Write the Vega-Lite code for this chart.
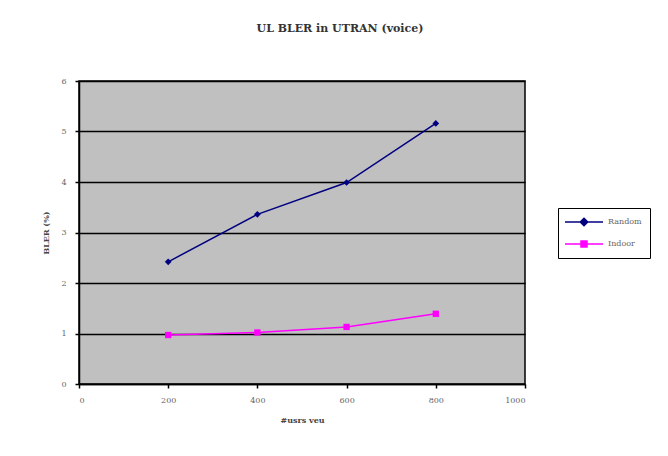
{
  "$schema": "https://vega.github.io/schema/vega-lite/v6.json",
  "width": 446,
  "height": 303,
  "autosize": {"type": "none"},
  "padding": {"left": 79, "top": 81, "right": 143, "bottom": 72},
  "background": "white",
  "title": {
    "text": "UL BLER in UTRAN (voice)",
    "font": "DejaVu Serif",
    "fontSize": 11,
    "fontWeight": "bold",
    "color": "#333333",
    "anchor": "middle",
    "frame": "group",
    "dx": 38,
    "offset": 43
  },
  "config": {
    "view": {"fill": "#C0C0C0", "stroke": "#000000", "strokeWidth": 1.5},
    "axis": {
      "labelFont": "DejaVu Serif",
      "labelFontSize": 8,
      "labelColor": "#666666",
      "titleFont": "DejaVu Serif",
      "titleFontSize": 8,
      "titleFontWeight": "bold",
      "titleColor": "#444444",
      "domainColor": "#000000",
      "domainWidth": 1.5,
      "tickColor": "#000000",
      "tickSize": 4,
      "tickWidth": 1.5
    }
  },
  "data": {
    "values": [
      {"users": 200, "bler": 2.42, "series": "Random"},
      {"users": 400, "bler": 3.36, "series": "Random"},
      {"users": 600, "bler": 3.99, "series": "Random"},
      {"users": 800, "bler": 5.16, "series": "Random"},
      {"users": 200, "bler": 0.97, "series": "Indoor"},
      {"users": 400, "bler": 1.02, "series": "Indoor"},
      {"users": 600, "bler": 1.13, "series": "Indoor"},
      {"users": 800, "bler": 1.39, "series": "Indoor"}
    ]
  },
  "encoding": {
    "x": {
      "field": "users",
      "type": "quantitative",
      "scale": {"domain": [0, 1000], "nice": false},
      "axis": {
        "values": [0, 200, 400, 600, 800, 1000],
        "format": "d",
        "grid": false,
        "title": "#usrs veu",
        "labelPadding": 8,
        "titlePadding": 12
      }
    },
    "y": {
      "field": "bler",
      "type": "quantitative",
      "scale": {"domain": [0, 6], "nice": false},
      "axis": {
        "values": [0, 1, 2, 3, 4, 5, 6],
        "grid": true,
        "gridColor": "#000000",
        "gridWidth": 1.5,
        "gridOpacity": 1,
        "title": "BLER (%)",
        "labelPadding": 9,
        "titlePadding": 10
      }
    }
  },
  "layer": [
    {
      "mark": {"type": "line", "strokeWidth": 1.5},
      "encoding": {
        "color": {
          "field": "series",
          "type": "nominal",
          "scale": {"domain": ["Random", "Indoor"], "range": ["#000080", "#FF00FF"]},
          "legend": {
            "orient": "none",
            "legendX": 479,
            "legendY": 127,
            "title": null,
            "strokeColor": "#000000",
            "fillColor": "#FFFFFF",
            "padding": 8,
            "rowPadding": 9,
            "symbolSize": 100,
            "symbolStrokeWidth": 1.5,
            "labelFont": "DejaVu Serif",
            "labelFontSize": 8,
            "labelColor": "#666666",
            "labelOffset": 30,
            "encode": {
              "symbols": {
                "update": {
                  "shape": {"signal": "datum.value === 'Random' ? 'M-1.4,0H6.2M2.4,-0.75L3.15,0L2.4,0.75L1.65,0Z' : 'M-1.4,0H6.2M1.8,-0.6H3V0.6H1.8Z'"},
                  "fill": {"signal": "datum.value === 'Random' ? '#000080' : '#FF00FF'"},
                  "stroke": {"signal": "datum.value === 'Random' ? '#000080' : '#FF00FF'"},
                  "strokeWidth": {"value": 1.5}
                }
              }
            }
          }
        }
      }
    },
    {
      "transform": [{"filter": "datum.series === 'Random'"}],
      "mark": {"type": "point", "filled": true, "opacity": 1, "shape": "diamond", "size": 45, "color": "#000080"}
    },
    {
      "transform": [{"filter": "datum.series === 'Indoor'"}],
      "mark": {"type": "point", "filled": true, "opacity": 1, "shape": "square", "size": 40, "color": "#FF00FF"}
    }
  ]
}
